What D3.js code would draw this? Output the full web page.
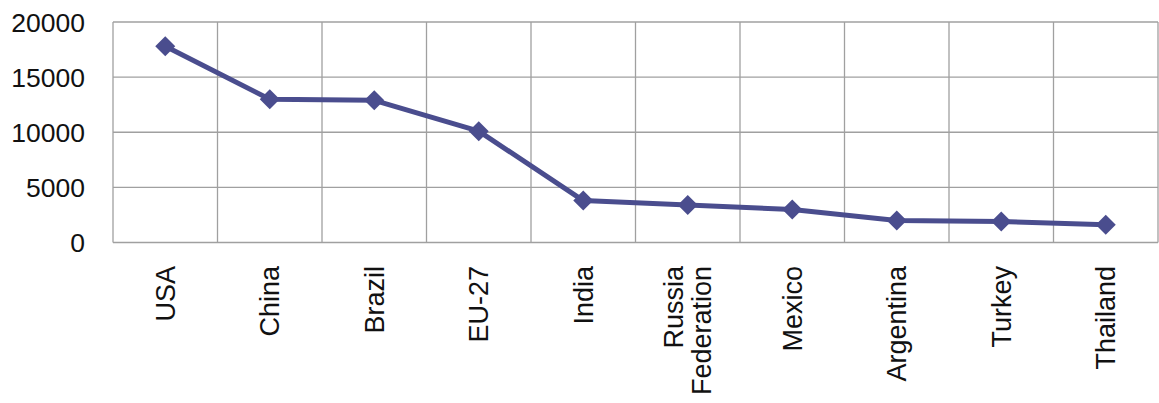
<!DOCTYPE html>
<html><head><meta charset="utf-8">
<script src="https://cdn.jsdelivr.net/npm/d3@7"></script>
<style>body{margin:0;background:#fff}svg{display:block}</style>
</head><body>
<svg id="c" width="1159" height="403"></svg>
<script>
const categories = ["USA","China","Brazil","EU-27","India","Russia Federation","Mexico","Argentina","Turkey","Thailand"];
const labelLines = [["USA"],["China"],["Brazil"],["EU-27"],["India"],["Russia","Federation"],["Mexico"],["Argentina"],["Turkey"],["Thailand"]];
const values = [17800,13000,12900,10100,3800,3400,3000,2000,1900,1600];
const yTicks = [0,5000,10000,15000,20000];

const svg = d3.select("#c");
const m = {left:113, right:1158, top:22, bottom:242.5};
const x = d3.scaleBand().domain(categories).range([m.left, m.right]).paddingInner(0).paddingOuter(0);
const y = d3.scaleLinear().domain([0,20000]).range([m.bottom, m.top]);
const font = "Arial, 'Liberation Sans', sans-serif";
const gridColor = "#a0a0a0";

svg.append("g").selectAll("line").data(yTicks).join("line")
  .attr("x1", m.left).attr("x2", m.right)
  .attr("y1", d=>y(d)).attr("y2", d=>y(d))
  .attr("stroke", gridColor).attr("stroke-width",1.3);
const vx = categories.map(c=>x(c)).concat([m.right]);
svg.append("g").selectAll("line").data(vx).join("line")
  .attr("x1", d=>d).attr("x2", d=>d)
  .attr("y1", m.top).attr("y2", m.bottom)
  .attr("stroke", gridColor).attr("stroke-width",1.3);

svg.append("g").selectAll("text").data(yTicks).join("text")
  .attr("x", 85).attr("y", d=>y(d)).attr("dy","0.36em")
  .attr("text-anchor","end").attr("font-family",font).attr("font-size",26.5)
  .attr("fill","#111").text(d=>d);

const xl = svg.append("g").selectAll("g").data(categories).join("g")
  .attr("transform", d=>`translate(${x(d)+x.bandwidth()/2},266) rotate(-90)`);
xl.each(function(d,i){
  const lines = labelLines[i];
  const n = lines.length;
  d3.select(this).selectAll("text").data(lines).join("text")
    .attr("x",0).attr("y",(l,j)=> (j-(n-1)/2)*28)
    .attr("dy","0.36em")
    .attr("text-anchor","end").attr("font-family",font).attr("font-size",27)
    .attr("fill","#111").text(l=>l);
});

const color = "#4a4d8e";
const squareDiamond = { draw(ctx, size){ const r = Math.sqrt(size/2); ctx.moveTo(0,-r); ctx.lineTo(r,0); ctx.lineTo(0,r); ctx.lineTo(-r,0); ctx.closePath(); } };
const line = d3.line().x((d,i)=>x(categories[i])+x.bandwidth()/2).y(d=>y(d));
svg.append("path").datum(values).attr("d",line)
  .attr("fill","none").attr("stroke",color).attr("stroke-width",5).attr("stroke-linejoin","round");
svg.append("g").selectAll("path").data(values).join("path")
  .attr("d", d3.symbol().type(squareDiamond).size(200))
  .attr("transform",(d,i)=>`translate(${x(categories[i])+x.bandwidth()/2},${y(d)})`)
  .attr("fill",color);
</script>
</body></html>
